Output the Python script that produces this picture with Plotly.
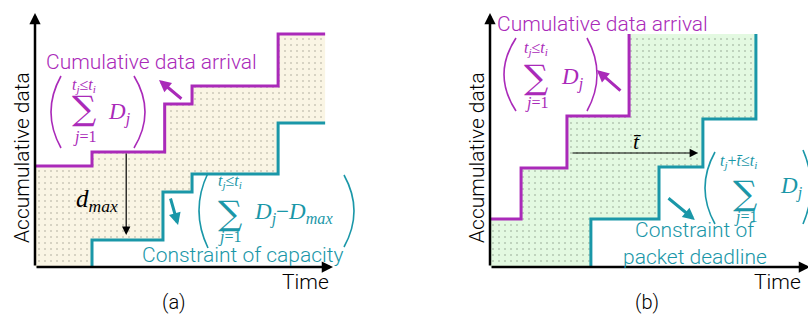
import plotly.graph_objects as go

W, H = 808, 320

# ---------------- data : panel (a) capacity constraint ----------------
a_arrival_times = [2.0, 4.55, 5.51, 8.53]          # arrival instants
a_arrival_levels = [10.1, 11.5, 16.3, 18.1, 23.3]  # cumulative data
a_capacity_times = [2.0, 4.49, 5.51, 8.53]
a_capacity_levels = [0.0, 2.7, 7.5, 9.3, 14.4]     # cumulative minus D_max
a_t_end = 10.18
a_dmax_time = 3.2

# ---------------- data : panel (b) packet deadline --------------------
b_arrival_times = [1.09, 2.70, 4.88]
b_arrival_levels = [4.8, 9.9, 15.1, 23.3]
b_deadline_times = [3.54, 5.93, 7.47, 9.33]
b_deadline_levels = [0.0, 4.8, 10.0, 14.8, 23.3]
b_tbar_start, b_tbar_end, b_tbar_level = 2.84, 7.30, 11.4

MAG = "#aa2ab9"
TEAL = "#1a97a8"
SANS = "Roboto"
SERIF = "Liberation Serif"


def step_path(t0, times, levels, t_end=None):
    xs, ys = [t0], [levels[0]]
    for t, lo, hi in zip(times, levels[:-1], levels[1:]):
        xs += [t, t]
        ys += [lo, hi]
    if t_end is not None:
        xs.append(t_end)
        ys.append(levels[-1])
    return xs, ys


fig = go.Figure()

# ---- panel (a)
ax_x, ax_y = step_path(0, a_arrival_times, a_arrival_levels, a_t_end)
ac_x, ac_y = step_path(a_capacity_times[0], a_capacity_times, a_capacity_levels, a_t_end)
fig.add_trace(go.Scatter(
    x=ax_x + ac_x[::-1] + [0, 0], y=ax_y + ac_y[::-1] + [0, a_arrival_levels[0]],
    fill="toself", mode="none", fillcolor="#faf5e4",
    fillpattern=dict(shape=".", fgcolor="#4a4a40", bgcolor="#faf5e4", size=6, solidity=0.05),
    xaxis="x", yaxis="y", hoverinfo="skip"))
fig.add_trace(go.Scatter(x=ax_x, y=ax_y, mode="lines", line=dict(color=MAG, width=3),
                         xaxis="x", yaxis="y"))
fig.add_trace(go.Scatter(x=ac_x, y=ac_y, mode="lines", line=dict(color=TEAL, width=3),
                         xaxis="x", yaxis="y"))

# ---- panel (b)
bx, by = step_path(0, b_arrival_times, b_arrival_levels)
bd_x, bd_y = step_path(b_deadline_times[0], b_deadline_times, b_deadline_levels)
fig.add_trace(go.Scatter(
    x=bx + bd_x[::-1] + [0, 0], y=by + bd_y[::-1] + [0, b_arrival_levels[0]],
    fill="toself", mode="none", fillcolor="#e3f9e1",
    fillpattern=dict(shape=".", fgcolor="#2a3a2a", bgcolor="#e3f9e1", size=6, solidity=0.05),
    xaxis="x2", yaxis="y2", hoverinfo="skip"))
fig.add_trace(go.Scatter(x=bx, y=by, mode="lines", line=dict(color=MAG, width=3),
                         xaxis="x2", yaxis="y2"))
fig.add_trace(go.Scatter(x=bd_x, y=bd_y, mode="lines", line=dict(color=TEAL, width=3),
                         xaxis="x2", yaxis="y2"))

UX, UY = 28.5, 10.0  # px per unit
OA, OB, OY = 35, 490, 267  # origins in px

ax_common = dict(showgrid=False, zeroline=False, showticklabels=False, ticks="",
                 showline=False, fixedrange=True)
fig.update_layout(
    width=W, height=H, margin=dict(l=0, r=0, t=0, b=0),
    paper_bgcolor="white", plot_bgcolor="white", showlegend=False,
    xaxis=dict(domain=[0, 400 / W], range=[-OA / UX, (400 - OA) / UX], **ax_common),
    yaxis=dict(domain=[0, 1], range=[-(H - OY) / UY, OY / UY], **ax_common),
    xaxis2=dict(domain=[400 / W, 1], range=[-(OB - 400) / UX, (W - OB) / UX], **ax_common),
    yaxis2=dict(domain=[0, 1], range=[-(H - OY) / UY, OY / UY], anchor="x2", **ax_common),
)

ann = []


def arrow(xr, yr, x, y, axx, ayy, color, width, size, head=2):
    ann.append(dict(xref=xr, yref=yr, axref=xr, ayref=yr, x=x, y=y, ax=axx, ay=ayy,
                    text="", showarrow=True, arrowhead=head, arrowsize=size,
                    arrowwidth=width, arrowcolor=color, standoff=0, startstandoff=0))


def P(px, py):
    return px / W, 1 - py / H


def T(text, px, py, size, color="black", family=SANS, xanchor="center", angle=0):
    x, y = P(px, py)
    ann.append(dict(xref="paper", yref="paper", x=x, y=y, text=text, showarrow=False,
                    xanchor=xanchor, yanchor="middle", textangle=angle,
                    font=dict(family=family, size=size, color=color, weight=300)))


# axes arrows
arrow("x", "y", 0, (OY - 13) / UY, 0, 0, "black", 2.5, 0.9)
arrow("x", "y", (333 - OA) / UX, 0, 0, 0, "black", 2.5, 0.9)
arrow("x2", "y2", 0, (OY - 13) / UY, 0, 0, "black", 2.5, 0.9)
arrow("x2", "y2", (810 - OB) / UX, 0, 0, 0, "black", 2.5, 0.9)

# panel (a) arrows
arrow("x", "y", a_dmax_time, a_capacity_levels[1] + 0.5, a_dmax_time, a_arrival_levels[1],
      "black", 1.2, 1.4)
arrow("x", "y", 4.35, 18.7, 5.19, 16.7, MAG, 3, 0.8)
arrow("x", "y", 5.02, 4.2, 4.74, 7.0, TEAL, 3, 0.8)
# panel (b) arrows
arrow("x2", "y2", b_tbar_end, b_tbar_level, b_tbar_start, b_tbar_level, "black", 1.2, 1.4)
arrow("x2", "y2", 3.75, 19.7, 4.63, 17.5, MAG, 3, 0.8)
arrow("x2", "y2", 7.19, 4.7, 6.21, 7.0, TEAL, 3, 0.8)

# texts panel (a)
T("Accumulative data", 22, 158, 21, angle=-90)
T("Time", 305, 282, 21)
T("(a)", 174, 302, 20)
T("Cumulative data arrival", 151, 62, 21, MAG)
T("Constraint of capacity", 243, 255, 21, TEAL)
T("<i>d</i><sub><i>max</i></sub>", 97, 200, 25, family=SERIF)

SUP = 16
SUM = 34
T("<i>t</i><sub><i>j</i></sub>≤<i>t</i><sub><i>i</i></sub>", 84, 85, SUP, MAG, SERIF)
T("∑", 84, 108, SUM, MAG, "DejaVu Serif")
T("<i>j</i>=1", 84, 137, SUP, MAG, SERIF)
T("<i>D</i><sub><i>j</i></sub>", 106, 114, 23, MAG, SERIF, xanchor="left")

T("<i>t</i><sub><i>j</i></sub>≤<i>t</i><sub><i>i</i></sub>", 230, 181, SUP, TEAL, SERIF)
T("∑", 230, 213, SUM, TEAL, "DejaVu Serif")
T("<i>j</i>=1", 230, 237, SUP, TEAL, SERIF)
T("<i>D</i><sub><i>j</i></sub>−<i>D</i><sub><i>max</i></sub>", 252, 213, 23, TEAL, SERIF,
  xanchor="left")

# texts panel (b)
T("Accumulative data", 477, 158, 21, angle=-90)
T("Time", 777, 282, 21)
T("(b)", 647, 302, 20)
T("Cumulative data arrival", 602, 24, 21, MAG)
T("Constraint of", 695, 230, 21, TEAL)
T("packet deadline", 695, 257, 21, TEAL)
T("<i>t̄</i>", 637, 141, 22, family=SERIF)

T("<i>t</i><sub><i>j</i></sub>≤<i>t</i><sub><i>i</i></sub>", 536, 48, SUP, MAG, SERIF)
T("∑", 536, 77, SUM, MAG, "DejaVu Serif")
T("<i>j</i>=1", 536, 103, SUP, MAG, SERIF)
T("<i>D</i><sub><i>j</i></sub>", 559, 79, 23, MAG, SERIF, xanchor="left")

T("<i>t</i><sub><i>j</i></sub>+<i>t̄</i>≤<i>t</i><sub><i>i</i></sub>", 738, 161, SUP, TEAL, SERIF)
T("∑", 745, 193, SUM, TEAL, "DejaVu Serif")
T("<i>j</i>=1", 745, 217, SUP, TEAL, SERIF)
T("<i>D</i><sub><i>j</i></sub>", 778, 187, 23, TEAL, SERIF, xanchor="left")

fig.update_layout(annotations=ann)

# big parentheses as thin curves
shapes = []


def paren(px_end, px_bulge, py_top, py_bot, color):
    x0, y0 = P(px_end, py_top)
    x1, y1 = P(px_end, py_bot)
    xc, yc = P(2 * px_bulge - px_end, (py_top + py_bot) / 2)
    shapes.append(dict(type="path", xref="paper", yref="paper",
                       path=f"M {x0},{y0} Q {xc},{yc} {x1},{y1}",
                       line=dict(color=color, width=1.6)))


paren(61, 51, 76, 148, MAG)
paren(134, 145, 76, 148, MAG)
paren(208, 199, 173, 248, TEAL)
paren(344, 354, 175, 247, TEAL)
paren(516, 504, 38, 111, MAG)
paren(587, 597, 38, 111, MAG)
paren(715, 705, 152, 224, TEAL)
paren(803, 811, 150, 224, TEAL)
fig.update_layout(shapes=shapes)

fig.write_html("out.html", config={"displayModeBar": False},
               post_script="document.body.style.margin='0';")
